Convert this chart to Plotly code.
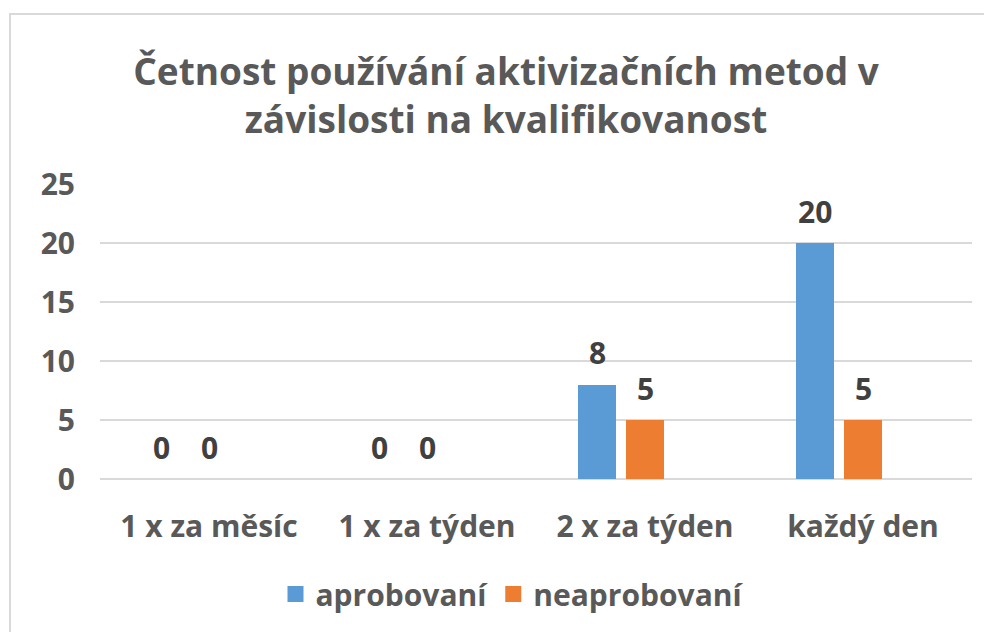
import plotly.graph_objects as go

categories = ["1 x za měsíc", "1 x za týden", "2 x za týden", "každý den"]
aprobovani = [0, 0, 8, 20]
neaprobovani = [0, 0, 5, 5]
y_ticks = [0, 5, 10, 15, 20, 25]

# the page puts the figure 8 px in from the top-left corner
W, H = 992, 632
L, R, T, B = 92, 28, 176, 161
pw, ph = W - L - R, H - T - B
cat_px = pw / len(categories)

font_family = "Open Sans, Liberation Sans, sans-serif"
grey = "#595959"
label_color = "#404040"
fs = 30

# (name, values, colour, bar offset in category units)
series = [
    ("aprobovaní", aprobovani, "#5b9bd5", -0.307),
    ("neaprobovaní", neaprobovani, "#ed7d31", -0.087),
]
bar_w = 0.174

fig = go.Figure()
for name, vals, color, off in series:
    # the group is laid out as if a third (empty) series followed, like the original
    fig.add_trace(go.Bar(
        x=categories, y=vals, name=name, showlegend=False,
        marker=dict(color=color, line=dict(width=0)),
        width=bar_w, offset=off,
    ))
    # legend entry with a bigger square swatch
    fig.add_trace(go.Scatter(
        x=[None], y=[None], mode="markers", name=f"<b>{name}</b>",
        marker=dict(symbol="square", size=18, color=color),
    ))
    # data labels
    shift = (off + bar_w / 2) * cat_px
    for c, v in zip(categories, vals):
        fig.add_annotation(
            x=c, y=v, text=f"<b>{v}</b>", showarrow=False,
            xshift=shift, yshift=32, yanchor="middle",
            font=dict(size=fs, color=label_color, family=font_family),
        )

fig.update_layout(
    width=W, height=H,
    margin=dict(l=L, r=R, t=T, b=B),
    paper_bgcolor="white", plot_bgcolor="white",
    font=dict(family=font_family, color=grey),
    title=dict(
        text="<b>Četnost používání aktivizačních metod v<br>závislosti na kvalifikovanost</b>",
        x=(498 - L) / pw, xref="paper", xanchor="center",
        y=1 - 77 / H, yref="container", yanchor="middle",
        font=dict(size=37, color=grey, family=font_family),
    ),
    xaxis=dict(
        tickvals=categories,
        ticktext=[f"<b>{c}</b>" for c in categories],
        showgrid=False, showline=False, ticks="",
        tickfont=dict(size=fs, color=grey, family=font_family),
        ticklabelstandoff=27,
    ),
    yaxis=dict(
        range=[0, 25], tickvals=y_ticks,
        ticktext=[f"<b>{v}</b>" for v in y_ticks],
        showgrid=True, gridcolor="#d9d9d9", gridwidth=1.5,
        zeroline=True, zerolinecolor="#d9d9d9", zerolinewidth=1.5,
        showline=False, ticks="",
        tickfont=dict(size=fs, color=grey, family=font_family),
        ticklabelstandoff=24,
    ),
    showlegend=True,
    legend=dict(
        orientation="h", x=(504 - L) / pw, xanchor="center",
        y=(H - 586 - B) / ph, yanchor="middle",
        font=dict(size=fs, color=grey, family=font_family),
        itemwidth=30, traceorder="normal",
    ),
    bargap=0,
)

# light chart-area border
fig.add_shape(
    type="rect", xref="paper", yref="paper",
    x0=(2 - L) / pw, x1=(W + 5 - L) / pw,
    y0=(H - (H + 5) - B) / ph, y1=(H - 6 - B) / ph,
    line=dict(color="#d9d9d9", width=2), fillcolor="rgba(0,0,0,0)",
    layer="below",
)

fig.write_html("out.html")
